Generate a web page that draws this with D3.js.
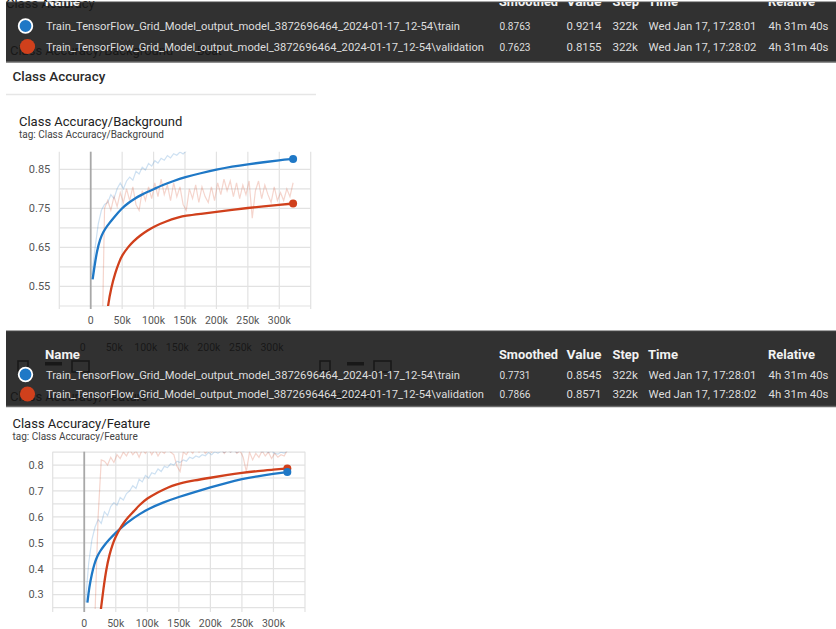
<!DOCTYPE html>
<html>
<head>
<meta charset="utf-8">
<script src="https://cdn.jsdelivr.net/npm/d3@7"></script>
<style>
  html, body { margin: 0; padding: 0; background: #ffffff; }
  svg { display: block; font-family: Roboto, "Noto Sans", sans-serif; }
</style>
</head>
<body>
<svg id="board" width="836" height="629"></svg>
<script>
// ---------- run data (steps in thousands) ----------
const trainRawStepsK = [2,7,12,17,22,27,32,37,42,47,52,57,62,67,72,77,82,87,92,97,102,107,112,117,122,127,132,137,142,147,152,157,162,167,172,177,182,187,192,197,202,207,212,217,222,227,232,237,242,247,252,257,262,267,272,277,282,287,292,297,302,307,312,317,322];
const valRawStepsK = [17,22,27,32,37,42,47,52,57,62,67,72,77,82,87,92,97,102,107,112,117,122,127,132,137,142,147,152,157,162,167,172,177,182,187,192,197,202,207,212,217,222,227,232,237,242,247,252,257,262,267,272,277,282,287,292,297,302,307,312,317,322];

// Class Accuracy/Background
const bgTrainRaw = [0.58,0.65,0.71,0.745,0.76,0.765,0.785,0.775,0.80,0.815,
  0.80,0.82,0.83,0.822,0.845,0.838,0.855,0.848,0.865,0.858,
  0.872,0.866,0.878,0.873,0.885,0.879,0.89,0.886,0.894,0.889,
  0.897,0.902,0.905,0.90,0.908,0.905,0.912,0.907,0.913,0.91,
  0.915,0.911,0.916,0.912,0.918,0.914,0.917,0.913,0.919,0.915,
  0.92,0.916,0.919,0.915,0.921,0.917,0.92,0.916,0.922,0.918,
  0.921,0.917,0.922,0.919,0.9214];
const bgValRaw = [0.30,0.75,0.77,0.745,0.78,0.755,0.79,0.765,0.80,0.77,
  0.805,0.76,0.745,0.795,0.77,0.805,0.775,0.815,0.78,0.825,
  0.785,0.81,0.77,0.815,0.78,0.805,0.76,0.745,0.80,0.775,
  0.81,0.765,0.805,0.78,0.765,0.805,0.77,0.815,0.785,0.825,
  0.795,0.82,0.78,0.815,0.775,0.81,0.785,0.82,0.725,0.795,
  0.82,0.775,0.81,0.785,0.765,0.805,0.77,0.79,0.77,0.80,
  0.78,0.8155];
const bgTrainSmoothStepsK = [3,6,10,15,20,26,36,50,60,70,80,90,100,115,130,150,175,200,225,250,275,300,322];
const bgTrainSmooth = [0.568,0.602,0.642,0.672,0.690,0.705,0.725,0.751,0.764,0.775,0.784,0.792,0.799,0.810,0.819,0.830,0.840,0.849,0.857,0.863,0.868,0.873,0.8763];
const bgValSmoothStepsK = [17,22,27,33,39,45,50,60,68,79,90,100,120,140,150,175,200,225,250,275,300,322];
const bgValSmooth = [0.30,0.42,0.50,0.55,0.585,0.612,0.630,0.652,0.666,0.681,0.693,0.703,0.717,0.727,0.731,0.736,0.741,0.746,0.751,0.755,0.759,0.7623];

// Class Accuracy/Feature
const featTrainRaw = [0.27,0.42,0.51,0.56,0.59,0.575,0.62,0.605,0.64,0.655,
  0.645,0.675,0.665,0.69,0.70,0.72,0.71,0.745,0.735,0.76,
  0.75,0.77,0.765,0.785,0.775,0.795,0.79,0.805,0.80,0.815,
  0.81,0.82,0.815,0.83,0.825,0.835,0.83,0.84,0.836,0.848,
  0.84,0.852,0.845,0.855,0.848,0.858,0.85,0.856,0.848,0.858,
  0.852,0.86,0.855,0.862,0.854,0.858,0.85,0.856,0.848,0.855,
  0.845,0.842,0.85,0.846,0.8545];
const featValRaw = [0.22,0.60,0.82,0.815,0.80,0.83,0.81,0.84,0.825,0.85,
  0.835,0.86,0.84,0.855,0.83,0.86,0.845,0.865,0.84,0.86,
  0.835,0.855,0.845,0.865,0.85,0.84,0.795,0.775,0.85,0.84,
  0.86,0.845,0.87,0.85,0.865,0.845,0.86,0.85,0.87,0.855,
  0.865,0.845,0.86,0.85,0.865,0.845,0.855,0.83,0.775,0.85,
  0.82,0.845,0.83,0.855,0.835,0.85,0.825,0.845,0.83,0.84,
  0.835,0.8571];
const featTrainSmoothStepsK = [5,8,12,16,20,25,30,40,50,62,75,88,100,125,150,175,200,225,250,275,300,322];
const featTrainSmooth = [0.269,0.33,0.38,0.418,0.445,0.467,0.485,0.514,0.539,0.566,0.590,0.611,0.629,0.656,0.677,0.696,0.714,0.731,0.746,0.757,0.766,0.7731];
const featValSmoothStepsK = [17,22,27,30,35,40,45,50,56,62,70,78,88,100,113,126,140,150,175,200,225,250,275,300,322];
const featValSmooth = [0.05,0.16,0.254,0.315,0.40,0.455,0.495,0.524,0.552,0.575,0.600,0.620,0.647,0.672,0.690,0.706,0.721,0.729,0.741,0.751,0.761,0.770,0.777,0.782,0.7866];

// ---------- axis ticks ----------
const xTickStepsK = [0,50,100,150,200,250,300];
const xGridStepsK = [-50,0,50,100,150,200,250,300,350];
const bgYTicks = [0.55,0.65,0.75,0.85];
const bgYGrid = [0.50,0.55,0.60,0.65,0.70,0.75,0.80,0.85];
const featYTicks = [0.3,0.4,0.5,0.6,0.7,0.8];
const featYGrid = [0.25,0.30,0.35,0.40,0.45,0.50,0.55,0.60,0.65,0.70,0.75,0.80,0.85];

// ---------- tooltip table rows ----------
const runNames = [
  "Train_TensorFlow_Grid_Model_output_model_3872696464_2024-01-17_12-54\\train",
  "Train_TensorFlow_Grid_Model_output_model_3872696464_2024-01-17_12-54\\validation"
];
const tableHeaders = ["Name","Smoothed","Value","Step","Time","Relative"];
const bgSmoothedText = ["0.8763","0.7623"];
const bgValueText = ["0.9214","0.8155"];
const featSmoothedText = ["0.7731","0.7866"];
const featValueText = ["0.8545","0.8571"];
const stepText = ["322k","322k"];
const timeText = ["Wed Jan 17, 17:28:01","Wed Jan 17, 17:28:02"];
const relativeText = ["4h 31m 40s","4h 31m 40s"];

const BLUE = "#1f78c6";
const RED = "#d0401c";

const svg = d3.select("#board");
const fmtK = d => d === 0 ? "0" : d + "k";

function zip(stepsK, vals) {
  return stepsK.map((s, i) => ({ step: s * 1000, v: vals[i] }));
}

function drawChart(id, box, yDomain, yTicks, yGrid, yFmt, series) {
  const x = d3.scaleLinear().domain([-50000, 350000]).range([box.x0, box.x1]);
  const y = d3.scaleLinear().domain(yDomain).range([box.y1, box.y0]);
  const g = svg.append("g");

  // grid
  g.selectAll("line.h").data(yGrid).join("line")
    .attr("x1", box.x0).attr("x2", box.x1)
    .attr("y1", d => y(d)).attr("y2", d => y(d))
    .attr("stroke", "#e2e2e2").attr("stroke-width", 1.2);
  g.selectAll("line.v").data(xGridStepsK).join("line")
    .attr("x1", d => x(d * 1000)).attr("x2", d => x(d * 1000))
    .attr("y1", box.y0).attr("y2", box.y1 + 3)
    .attr("stroke", d => d === 0 ? "#a8a8a8" : "#e2e2e2")
    .attr("stroke-width", d => d === 0 ? 1.8 : 1.2);

  // tick labels
  g.selectAll("text.y").data(yTicks).join("text")
    .attr("x", box.x0 - 9).attr("y", d => y(d))
    .attr("dy", "0.35em").attr("text-anchor", "end")
    .attr("font-size", 11).attr("fill", "#555")
    .text(d => d3.format(yFmt)(d));
  g.selectAll("text.x").data(xTickStepsK).join("text")
    .attr("x", d => x(d * 1000)).attr("y", box.y1 + 14)
    .attr("dy", "0.35em").attr("text-anchor", "middle")
    .attr("font-size", 10.5).attr("fill", "#555")
    .text(fmtK);

  // clip to plot
  svg.append("clipPath").attr("id", id)
    .append("rect").attr("x", box.x0).attr("y", box.y0)
    .attr("width", box.x1 - box.x0).attr("height", box.y1 - box.y0);
  const p = g.append("g").attr("clip-path", `url(#${id})`);

  const rawLine = d3.line().x(d => x(d.step)).y(d => y(d.v));
  const smLine = d3.line().x(d => x(d.step)).y(d => y(d.v)).curve(d3.curveBasis);

  series.forEach(s => {
    p.append("path").datum(s.raw).attr("d", rawLine)
      .attr("fill", "none").attr("stroke", s.color)
      .attr("stroke-opacity", 0.22).attr("stroke-width", 1.2);
  });
  series.forEach(s => {
    p.append("path").datum(s.smooth).attr("d", smLine)
      .attr("fill", "none").attr("stroke", s.color)
      .attr("stroke-width", 2.3);
  });
  series.slice().reverse().forEach(s => {
    const last = s.smooth[s.smooth.length - 1];
    g.append("circle").attr("cx", x(last.step)).attr("cy", y(last.v))
      .attr("r", 4).attr("fill", s.color);
  });
  return x;
}

// ---------- page headings ----------
svg.append("text").attr("x", 12.5).attr("y", 76).attr("dy", "0.35em")
  .attr("font-size", 13.5).attr("font-weight", 500).attr("fill", "#2a2a2a")
  .text("Class Accuracy");
svg.append("line").attr("x1", 6).attr("x2", 316).attr("y1", 94.5).attr("y2", 94.5)
  .attr("stroke", "#e6e6e6").attr("stroke-width", 1.5);

svg.append("text").attr("x", 19).attr("y", 121.5).attr("dy", "0.35em")
  .attr("font-size", 13).attr("fill", "#222").text("Class Accuracy/Background");
svg.append("text").attr("x", 19).attr("y", 134.5).attr("dy", "0.35em")
  .attr("font-size", 10).attr("fill", "#444").text("tag: Class Accuracy/Background");

svg.append("text").attr("x", 12.5).attr("y", 423.5).attr("dy", "0.35em")
  .attr("font-size", 13).attr("fill", "#222").text("Class Accuracy/Feature");
svg.append("text").attr("x", 12.5).attr("y", 436.5).attr("dy", "0.35em")
  .attr("font-size", 10).attr("fill", "#444").text("tag: Class Accuracy/Feature");

// ---------- charts ----------
drawChart("clipBg", { x0: 59.3, x1: 310.7, y0: 151.7, y1: 306 }, [0.5, 0.895],
  bgYTicks, bgYGrid, ".2f", [
    { color: BLUE, raw: zip(trainRawStepsK, bgTrainRaw), smooth: zip(bgTrainSmoothStepsK, bgTrainSmooth) },
    { color: RED, raw: zip(valRawStepsK, bgValRaw), smooth: zip(bgValSmoothStepsK, bgValSmooth) }
  ]);

const xFeat = drawChart("clipFeat", { x0: 52.7, x1: 305, y0: 451.7, y1: 609 }, [0.2445, 0.8515],
  featYTicks, featYGrid, ".1f", [
    { color: BLUE, raw: zip(trainRawStepsK, featTrainRaw), smooth: zip(featTrainSmoothStepsK, featTrainSmooth) },
    { color: RED, raw: zip(valRawStepsK, featValRaw), smooth: zip(featValSmoothStepsK, featValSmooth) }
  ]);

// ---------- hover tooltips ----------
function drawTooltip(top, bottom, headerY, rowY, smoothed, values, under) {
  const t = svg.append("g");
  // page content sitting underneath the translucent tooltip
  under(t);
  t.append("rect").attr("x", 6).attr("y", top).attr("width", 830).attr("height", bottom - top)
    .attr("fill", "#1b1b1b").attr("fill-opacity", 0.9);
  t.append("line").attr("x1", 6).attr("x2", 836).attr("y1", bottom).attr("y2", bottom)
    .attr("stroke", "#6a6a6a").attr("stroke-width", 1.5);
  t.append("line").attr("x1", 6).attr("x2", 836).attr("y1", top).attr("y2", top)
    .attr("stroke", "#4a4a4a").attr("stroke-width", 1);

  const clipId = "tipclip" + Math.round(top);
  svg.append("clipPath").attr("id", clipId).append("rect")
    .attr("x", 6).attr("y", top).attr("width", 830).attr("height", bottom - top);
  const c = t.append("g").attr("clip-path", `url(#${clipId})`);

  const headX = [45, 499, 566.5, 612.5, 648, 768];
  const headW = [35, 59, 35, 26.5, 30, 47];
  tableHeaders.forEach((h, i) => {
    c.append("text").attr("x", headX[i]).attr("y", headerY).attr("dy", "0.35em")
      .attr("font-size", 12).attr("font-weight", 700).attr("fill", "#f2f2f2")
      .attr("textLength", headW[i]).attr("lengthAdjust", "spacingAndGlyphs")
      .text(h);
  });

  const nameW = [414, 438];
  [0, 1].forEach(r => {
    const yy = rowY[r];
    if (r === 0) {
      c.append("circle").attr("cx", 25.5).attr("cy", yy).attr("r", 6.8)
        .attr("fill", BLUE).attr("stroke", "#ffffff").attr("stroke-width", 1.8);
    } else {
      c.append("circle").attr("cx", 27.5).attr("cy", yy).attr("r", 7.6).attr("fill", RED);
    }
    const cells = [
      [46, nameW[r], runNames[r]],
      [499.5, 31, smoothed[r]],
      [566.5, 35, values[r]],
      [612.5, 25.5, stepText[r]],
      [648.5, 108, timeText[r]],
      [768.5, 60, relativeText[r]]
    ];
    cells.forEach(([cx, w, txt]) => {
      c.append("text").attr("x", cx).attr("y", yy).attr("dy", "0.35em")
        .attr("font-size", 11.5).attr("fill", "#dedede")
        .attr("textLength", w).attr("lengthAdjust", "spacingAndGlyphs")
        .text(txt);
    });
  });
}

drawTooltip(2, 62, 1.5, [26, 46.5], bgSmoothedText, bgValueText, t => {
  t.append("text").attr("x", 10).attr("y", 50.5).attr("dy", "0.35em")
    .attr("font-size", 13).attr("fill", "#000").text("Class Accuracy/Background");
  t.append("text").attr("x", 197).attr("y", 51).attr("dy", "0.35em")
    .attr("font-size", 12).attr("fill", "#000").text("Boat");
  t.append("text").attr("x", 6).attr("y", 3).attr("dy", "0.35em")
    .attr("font-size", 13).attr("fill", "#000").text("Class Accuracy");
});

drawTooltip(331, 406.5, 355, [374.5, 394], featSmoothedText, featValueText, t => {
  t.selectAll("text.gx").data(xTickStepsK).join("text")
    .attr("x", d => xFeat(d * 1000) - 1.5).attr("y", 347).attr("dy", "0.35em")
    .attr("text-anchor", "middle").attr("font-size", 10.5).attr("fill", "#000")
    .text(fmtK);
  [18, 320].forEach(bx => {
    t.append("rect").attr("x", bx).attr("y", 361).attr("width", 10).attr("height", 10)
      .attr("fill", "none").attr("stroke", "#000").attr("stroke-width", 1.6);
    t.append("rect").attr("x", bx + 27).attr("y", 362).attr("width", 17).attr("height", 3.5)
      .attr("fill", "#000");
    t.append("rect").attr("x", bx + 54).attr("y", 361).attr("width", 17).attr("height", 11)
      .attr("fill", "none").attr("stroke", "#000").attr("stroke-width", 1.6);
  });
  t.append("text").attr("x", 10).attr("y", 396).attr("dy", "0.35em")
    .attr("font-size", 13).attr("fill", "#000").text("Class Accuracy/Feature");
  t.append("text").attr("x", 312).attr("y", 396).attr("dy", "0.35em")
    .attr("font-size", 12).attr("fill", "#000").text("Unclassified");
});
</script>
</body>
</html>
